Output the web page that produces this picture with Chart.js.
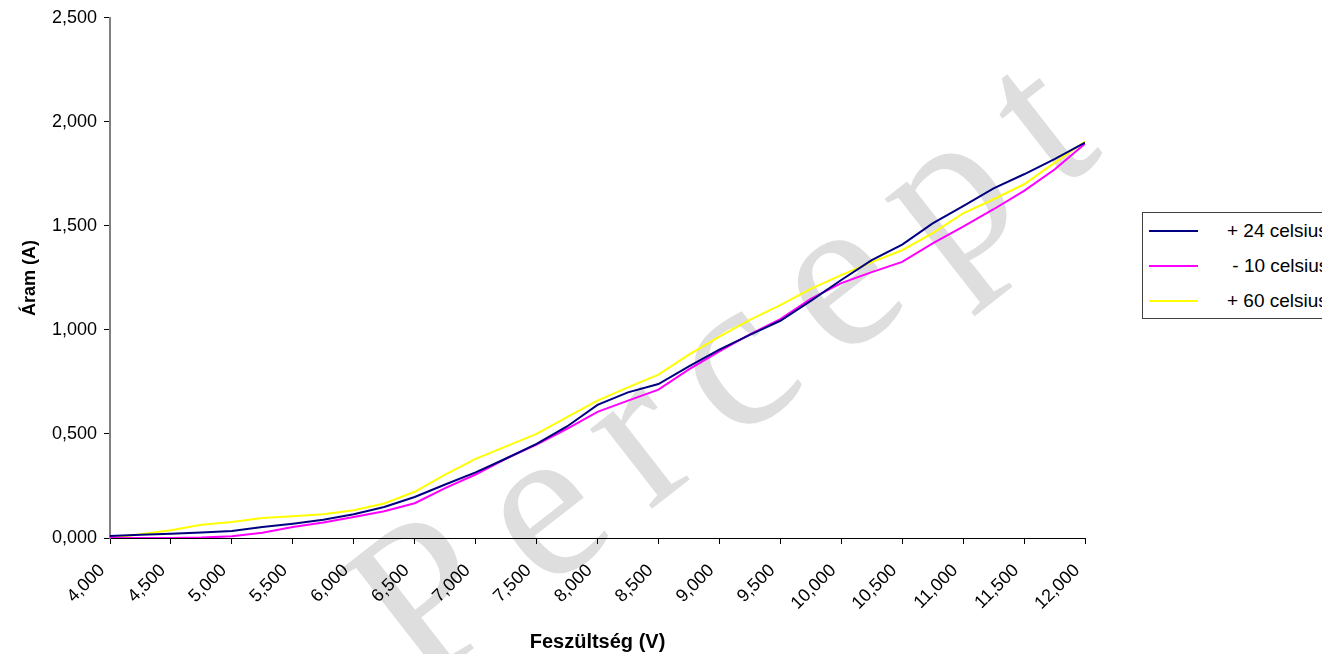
<!DOCTYPE html>
<html>
<head>
<meta charset="utf-8">
<script src="https://cdn.jsdelivr.net/npm/chart.js@4.4.1/dist/chart.umd.min.js"></script>
<style>
  html, body { margin: 0; padding: 0; background: #fff; overflow: hidden; }
  #wrap { position: relative; width: 1322px; height: 654px; }
  #chart { position: absolute; left: 0; top: 0; }
  #legend { position: absolute; left: 1142px; top: 212px; width: 200px; height: 105px;
            border: 1px solid #404040; background: #fff; font: 19px 'Liberation Sans', Arial, sans-serif; }
  .row { position: absolute; left: 0; height: 20px; }
  .swatch { position: absolute; left: 6px; top: 9px; width: 49px; height: 0; border-top: 2px solid; }
  .lbl { position: absolute; left: 84px; top: 0; white-space: pre; line-height: 20px; color: #000; }
</style>
</head>
<body>
<div id="wrap">
  <canvas id="chart" width="1322" height="654"></canvas>
  <div id="legend"></div>
</div>
<script>
// voltage (V) and current (A) readings
const voltage = [4.00, 4.25, 4.50, 4.75, 5.00, 5.25, 5.50, 5.75, 6.00, 6.25, 6.50, 6.75, 7.00, 7.25, 7.50, 7.75,
                 8.00, 8.25, 8.50, 8.75, 9.00, 9.25, 9.50, 9.75, 10.00, 10.25, 10.50, 10.75, 11.00, 11.25, 11.50, 11.75, 12.00];
const plus24 = [0.010, 0.016, 0.021, 0.027, 0.034, 0.053, 0.069, 0.088, 0.114, 0.149, 0.197, 0.257, 0.315, 0.382, 0.452, 0.536,
                0.640, 0.700, 0.740, 0.825, 0.905, 0.976, 1.044, 1.140, 1.240, 1.335, 1.410, 1.512, 1.595, 1.680, 1.748, 1.821, 1.900];
const minus10 = [0.000, 0.000, 0.000, 0.002, 0.008, 0.025, 0.053, 0.074, 0.101, 0.129, 0.167, 0.240, 0.305, 0.382, 0.449, 0.525,
                 0.606, 0.660, 0.713, 0.810, 0.897, 0.979, 1.052, 1.149, 1.225, 1.278, 1.327, 1.416, 1.497, 1.580, 1.668, 1.771, 1.895];
const plus60 = [0.000, 0.018, 0.037, 0.064, 0.077, 0.096, 0.105, 0.114, 0.133, 0.166, 0.222, 0.305, 0.380, 0.440, 0.500, 0.581,
                0.660, 0.724, 0.785, 0.881, 0.968, 1.048, 1.119, 1.197, 1.263, 1.326, 1.383, 1.465, 1.560, 1.628, 1.700, 1.803, 1.905];

const seriesNames = ['+ 24 celsius', ' - 10 celsius', '+ 60 celsius'];
const seriesColors = ['#000080', '#ff00ff', '#ffff00'];

const xTicks = [4, 4.5, 5, 5.5, 6, 6.5, 7, 7.5, 8, 8.5, 9, 9.5, 10, 10.5, 11, 11.5, 12];
const yTicks = [0, 0.5, 1, 1.5, 2, 2.5];

const fmt = v => v.toFixed(3).replace('.', ',');
const FONT = "'Liberation Sans', Arial, sans-serif";

function toPoints(ys) {
    return voltage.map((v, i) => ({ x: v, y: ys[i] }));
}

// light watermark behind the plot
const watermark = {
    id: 'watermark',
    beforeDraw(chart) {
        const ctx = chart.ctx;
        ctx.save();
        ctx.translate(420, 690);
        ctx.rotate(-38 * Math.PI / 180);
        ctx.font = "220px 'Liberation Serif', 'Times New Roman', serif";
        ctx.letterSpacing = '35px';
        ctx.fillStyle = '#dedede';
        ctx.textBaseline = 'alphabetic';
        ctx.fillText('Percept', 0, 0);
        ctx.restore();
    }
};

const ctx = document.getElementById('chart');

new Chart(ctx, {
    type: 'line',
    data: {
        datasets: [
            { label: seriesNames[0], data: toPoints(plus24), borderColor: seriesColors[0] },
            { label: seriesNames[1], data: toPoints(minus10), borderColor: seriesColors[1] },
            { label: seriesNames[2], data: toPoints(plus60), borderColor: seriesColors[2] }
        ]
    },
    options: {
        responsive: false,
        animation: false,
        layout: { padding: { left: 0, right: 237, top: 16, bottom: 0 } },
        elements: {
            line: { borderWidth: 2, tension: 0, fill: false },
            point: { radius: 0 }
        },
        plugins: {
            legend: { display: false },
            tooltip: { enabled: false }
        },
        scales: {
            x: {
                type: 'linear',
                min: 4, max: 12,
                afterBuildTicks: s => { s.ticks = xTicks.map(v => ({ value: v })); },
                afterFit: s => { s.height = 116; },
                grid: { drawOnChartArea: false, tickLength: 6, color: '#000' },
                border: { color: '#000', width: 1 },
                ticks: {
                    autoSkip: false, minRotation: 45, maxRotation: 45, padding: 16, labelOffset: -8,
                    color: '#000', font: { family: FONT, size: 18 },
                    callback: v => fmt(v)
                },
                title: {
                    display: true, text: 'Feszültség (V)', color: '#000',
                    font: { family: FONT, size: 20, weight: 'bold' },
                    padding: { top: 0, bottom: 0 }
                }
            },
            y: {
                min: 0, max: 2.5,
                afterBuildTicks: s => { s.ticks = yTicks.map(v => ({ value: v })); },
                afterFit: s => { s.width = 110; },
                grid: { drawOnChartArea: false, tickLength: 6, color: '#000' },
                border: { color: '#808080', width: 2 },
                ticks: {
                    padding: 7, color: '#000', font: { family: FONT, size: 18 },
                    callback: v => fmt(v)
                },
                title: {
                    display: true, text: 'Áram (A)', color: '#000',
                    font: { family: FONT, size: 18, weight: 'bold' },
                    padding: { top: 19, bottom: 0 }
                }
            }
        }
    },
    plugins: [watermark]
});

// legend box, partly cut by the right edge like the original
const legend = document.getElementById('legend');
seriesNames.forEach((name, i) => {
    const row = document.createElement('div');
    row.className = 'row';
    row.style.top = (8 + i * 35) + 'px';
    row.innerHTML = '<div class="swatch" style="border-color:' + seriesColors[i] + '"></div>' +
                    '<div class="lbl"></div>';
    row.querySelector('.lbl').textContent = name;
    legend.appendChild(row);
});
</script>
</body>
</html>
